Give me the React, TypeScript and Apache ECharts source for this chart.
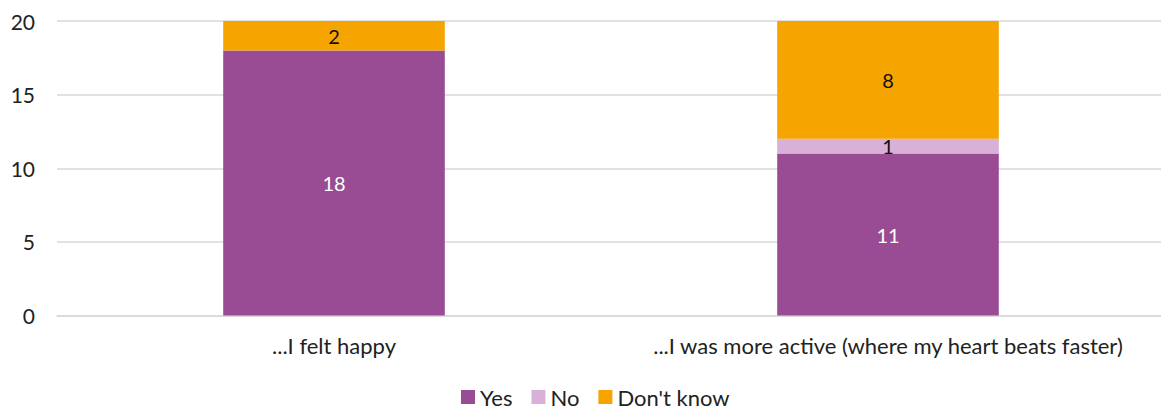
import React, { useEffect, useRef } from "react";
import * as echarts from "echarts";

const categories = ["...I felt happy", "...I was more active (where my heart beats faster)"];
const yesValues = [18, 11];
const noValues = [0, 1];
const dontKnowValues = [2, 8];
const yTicks = [0, 5, 10, 15, 20];

const FONT = "Lato, 'Noto Sans', sans-serif";

export default function App() {
  const ref = useRef<HTMLDivElement>(null);
  useEffect(() => {
    document.body.style.margin = "0";
    document.body.style.overflow = "hidden";
    if (!ref.current) return;
    const chart = echarts.init(ref.current, null, { renderer: "svg" });
    const lbl = (color: string) => ({
      show: true,
      color,
      fontFamily: FONT,
      fontSize: 20,
      formatter: (p: any) => (p.value ? String(p.value) : ""),
    });
    chart.setOption({
      animation: false,
      textStyle: { fontFamily: FONT },
      grid: { left: 57, right: 0, top: 21, bottom: 93.5, containLabel: false },
      legend: {
        top: 386,
        left: 461,
        itemWidth: 14,
        itemHeight: 14,
        itemGap: 19,
        icon: "rect",
        padding: 0,
        textStyle: { fontFamily: FONT, fontSize: 22, color: "#222" },
        data: ["Yes", "No", "Don't know"],
      },
      xAxis: {
        type: "category",
        data: categories,
        axisLine: { show: true, lineStyle: { color: "#d9d9d9", width: 1.5 } },
        axisTick: { show: false },
        axisLabel: { fontFamily: FONT, fontSize: 22, color: "#222", margin: 19, interval: 0, hideOverlap: false },
      },
      yAxis: {
        type: "value",
        min: yTicks[0],
        max: yTicks[yTicks.length - 1],
        interval: 5,
        splitLine: { lineStyle: { color: "#d9d9d9", width: 1.5 } },
        axisLine: { show: false },
        axisTick: { show: false },
        axisLabel: { fontFamily: FONT, fontSize: 21, color: "#222", margin: 22 },
      },
      series: [
        {
          name: "Yes",
          type: "bar",
          stack: "s",
          barWidth: "40%",
          data: yesValues,
          itemStyle: { color: "#994C94" },
          label: lbl("#ffffff"),
        },
        {
          name: "No",
          type: "bar",
          stack: "s",
          data: noValues,
          itemStyle: { color: "#D9B1D8" },
          label: lbl("#111111"),
        },
        {
          name: "Don't know",
          type: "bar",
          stack: "s",
          data: dontKnowValues,
          itemStyle: { color: "#F6A400" },
          label: lbl("#111111"),
        },
      ],
    });
    return () => chart.dispose();
  }, []);
  return (
    <div style={{ width: 1161, height: 409, overflow: "hidden", position: "relative" }}>
      <div ref={ref} style={{ width: 1165, height: 409 }} />
    </div>
  );
}
